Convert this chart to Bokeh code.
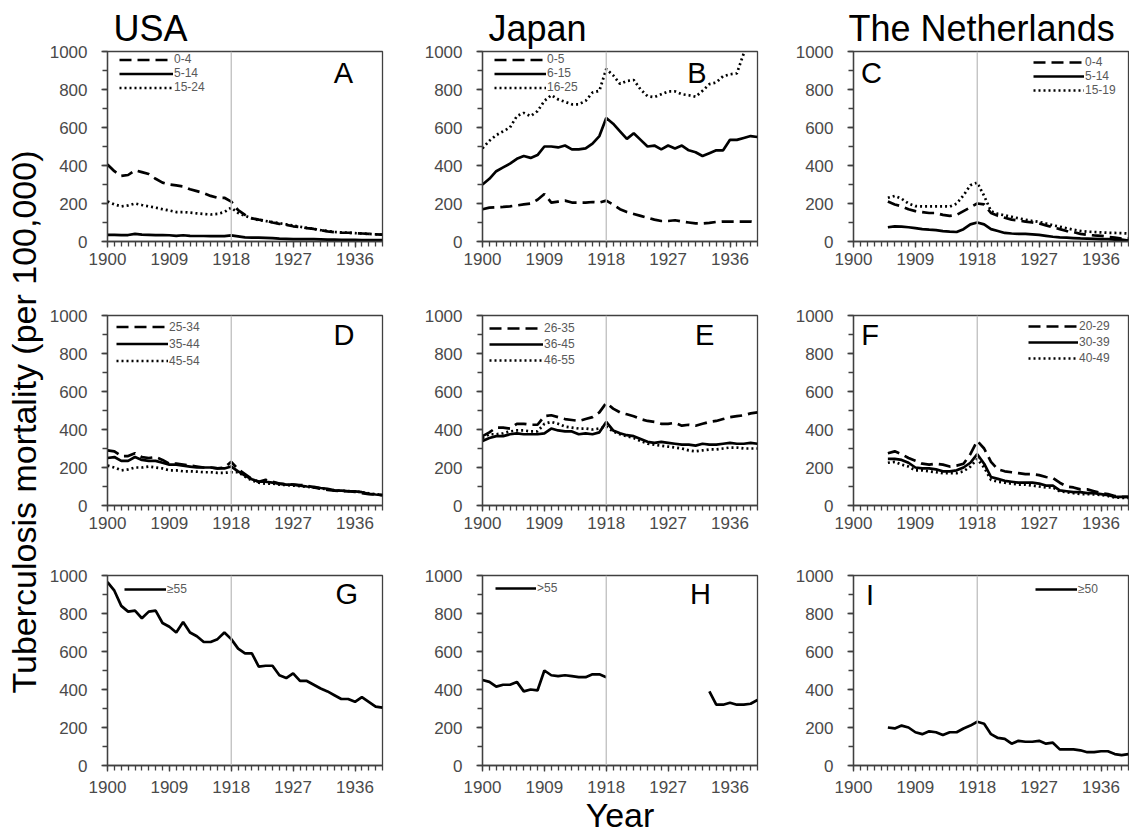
import math
from bokeh.plotting import figure
from bokeh.models import Range1d, FixedTicker, Span, Label, Title
from bokeh.layouts import row, column
from bokeh.embed import file_html
from bokeh.resources import INLINE

NaN = float("nan")
FONT = "Liberation Sans"

# ---------------- data ----------------
years = list(range(1900, 1941))
years_nl = list(range(1905, 1941))
x_ticks = [1900, 1909, 1918, 1927, 1936]
y_ticks = [0, 200, 400, 600, 800, 1000]
countries = ["USA", "Japan", "The Netherlands"]

# USA
usa_0_4 = [405, 370, 345, 350, 375, 365, 355, 330, 310, 300,
           295, 290, 275, 265, 255, 240, 230, 230, 210, 165,
           140, 122, 115, 110, 100, 93, 88, 80, 76, 70,
           66, 60, 53, 49, 47, 46, 44, 42, 40, 38, 36]
usa_5_14 = [35, 35, 34, 34, 40, 36, 35, 34, 34, 33,
            30, 33, 30, 29, 29, 28, 28, 28, 32, 27,
            22, 20, 20, 19, 18, 15, 14, 13, 13, 12,
            12, 11, 10, 10, 9, 9, 9, 8, 8, 8, 7]
usa_15_24 = [210, 195, 185, 190, 200, 192, 185, 178, 170, 163,
             155, 155, 152, 148, 145, 142, 145, 155, 178, 150,
             135, 122, 112, 108, 102, 96, 90, 84, 78, 72,
             66, 60, 55, 50, 48, 46, 44, 42, 40, 38, 36]
usa_25_34 = [290, 285, 260, 260, 275, 255, 250, 255, 240, 220,
             220, 215, 210, 205, 200, 200, 195, 200, 230, 190,
             165, 140, 125, 135, 125, 115, 112, 110, 108, 105,
             95, 88, 82, 78, 76, 75, 72, 65, 60, 58, 55]
usa_35_44 = [250, 255, 235, 235, 255, 240, 235, 235, 225, 215,
             215, 210, 205, 200, 200, 200, 195, 195, 205, 180,
             158, 138, 125, 125, 120, 115, 110, 110, 105, 100,
             98, 92, 88, 80, 78, 75, 74, 70, 62, 58, 55]
usa_45_54 = [210, 200, 185, 190, 200, 200, 205, 200, 195, 185,
             185, 180, 180, 178, 175, 175, 172, 172, 175, 175,
             152, 132, 120, 115, 115, 110, 108, 105, 102, 98,
             95, 90, 85, 80, 78, 76, 74, 70, 64, 60, 56]
usa_55 = [965, 920, 840, 810, 815, 775, 810, 815, 750, 730,
          700, 755, 700, 680, 650, 650, 665, 700, 665, 615,
          590, 590, 520, 525, 525, 475, 460, 485, 445, 445,
          425, 405, 390, 370, 350, 350, 335, 360, 335, 310, 305]

# Japan
jp_0_5 = [170, 178, 180, 182, 185, 190, 195, 200, 220, 250,
          205, 210, 215, 205, 205, 205, 208, 205, 215, 195,
          170, 155, 145, 135, 125, 115, 108, 108, 112, 105,
          100, 95, 95, 98, 103, 105, 105, 105, 105, 105, 100]
jp_6_15 = [300, 330, 370, 390, 410, 435, 450, 440, 455, 500,
           500, 495, 505, 485, 485, 490, 515, 555, 650, 620,
           580, 540, 570, 535, 500, 505, 485, 505, 490, 505,
           480, 470, 450, 465, 480, 480, 535, 535, 545, 555, 550]
jp_16_25 = [490, 530, 560, 580, 600, 660, 677, 660, 686, 740,
            770, 748, 735, 722, 722, 740, 784, 793, 908, 875,
            830, 845, 850, 800, 765, 760, 775, 790, 790, 775,
            770, 762, 793, 828, 837, 870, 880, 885, 990, 1100, 1200]
jp_26_35 = [365, 385, 410, 410, 405, 430, 430, 425, 425, 470,
            475, 465, 455, 450, 445, 455, 465, 490, 540, 510,
            490, 480, 470, 455, 445, 440, 430, 430, 435, 420,
            425, 420, 430, 440, 445, 455, 465, 470, 475, 485, 490]
jp_36_45 = [340, 355, 365, 365, 375, 380, 375, 375, 375, 380,
            405, 395, 390, 390, 375, 380, 375, 385, 440, 395,
            380, 370, 365, 350, 335, 330, 335, 330, 325, 320,
            320, 315, 325, 320, 320, 325, 330, 325, 325, 330, 325]
jp_46_55 = [355, 375, 375, 380, 390, 395, 395, 390, 390, 430,
            440, 430, 415, 410, 405, 405, 400, 405, 415, 390,
            375, 365, 355, 340, 325, 320, 315, 310, 305, 300,
            290, 285, 290, 295, 295, 300, 305, 305, 300, 300, 300]
jp_55 = [450, 440, 415, 425, 425, 440, 390, 400, 395, 500,
         475, 470, 475, 470, 465, 465, 480, 480, 465, NaN,
         NaN, NaN, NaN, NaN, NaN, NaN, NaN, NaN, NaN, NaN,
         NaN, NaN, NaN, 390, 320, 320, 330, 320, 320, 325, 345]

# The Netherlands (1905-1940)
nl_0_4 = [210, 195, 185, 170, 160, 155, 150, 150, 140, 135,
          140, 160, 180, 200, 195, 150, 135, 125, 115, 110,
          105, 100, 95, 85, 75, 65, 55, 50, 40, 35,
          32, 30, 25, 20, 15, 15]
nl_5_14 = [75, 80, 78, 75, 70, 65, 62, 60, 55, 52,
           50, 65, 90, 100, 90, 65, 55, 45, 42, 40,
           40, 38, 35, 30, 25, 22, 20, 18, 16, 15,
           14, 12, 12, 10, 10, 5]
nl_15_19 = [230, 240, 225, 200, 186, 185, 185, 185, 185, 184,
            199, 243, 296, 310, 240, 160, 145, 138, 130, 122,
            115, 108, 103, 95, 85, 78, 70, 62, 56, 52,
            50, 48, 46, 45, 44, 42]
nl_20_29 = [275, 285, 270, 250, 235, 220, 215, 220, 215, 205,
            210, 220, 270, 340, 300, 230, 190, 180, 175, 170,
            165, 165, 160, 150, 145, 120, 100, 95, 85, 85,
            75, 65, 60, 50, 45, 45]
nl_30_39 = [245, 245, 240, 225, 200, 195, 195, 190, 180, 180,
            185, 200, 225, 270, 220, 150, 140, 130, 125, 120,
            120, 120, 115, 105, 105, 80, 75, 70, 70, 65,
            65, 60, 55, 45, 45, 45]
nl_40_49 = [225, 230, 215, 205, 185, 185, 180, 175, 170, 170,
            170, 180, 205, 245, 200, 135, 125, 120, 115, 110,
            110, 105, 100, 95, 95, 75, 70, 65, 60, 60,
            58, 55, 50, 42, 40, 40]
nl_50 = [200, 195, 210, 200, 175, 165, 180, 175, 160, 175,
         175, 195, 210, 230, 220, 165, 145, 140, 115, 130,
         125, 125, 130, 115, 120, 85, 85, 85, 80, 70,
         70, 75, 75, 60, 55, 60]

# ---------------- layout constants ----------------
FW, FH = 276, 190
W0 = 46                                   # y-title strip width
COLS = [(60, 39), (60, 35), (60, 1)]      # left/right borders
ROWS = [(51, 40), (34, 40), (30, 74)]     # top/bottom borders
X_STANDOFF = [5, 5, 9]
DASH = {"dash": "12 6", "solid": "solid", "dot": "2 3"}
AXC = "#404040"
TXC = "#4a4a4a"
TOTAL_H = sum(t + FH + b for t, b in ROWS)


def strip(w, h):
    s = figure(width=w, height=h, x_range=Range1d(0, w), y_range=Range1d(0, h),
               x_axis_type=None, y_axis_type=None, output_backend="svg",
               toolbar_location=None, min_border=0)
    s.outline_line_color = None
    s.grid.visible = False
    return s


def panel(ci, ri, series, letter, letter_xy, leg):
    L, R = COLS[ci]
    T, B = ROWS[ri]
    p = figure(width=L + FW + R, height=T + FH + B,
               x_range=Range1d(1900, 1940), y_range=Range1d(0, 1000),
               output_backend="svg", toolbar_location=None,
               min_border_left=L, min_border_right=R,
               min_border_top=T, min_border_bottom=B)
    p.xgrid.visible = False
    p.ygrid.visible = False
    p.outline_line_color = AXC
    p.outline_line_width = 1.3
    p.xaxis.ticker = FixedTicker(ticks=x_ticks, minor_ticks=years)
    p.yaxis.ticker = FixedTicker(ticks=y_ticks, minor_ticks=list(range(0, 1001, 100)))
    for ax in (p.xaxis[0], p.yaxis[0]):
        ax.axis_line_color = AXC
        ax.axis_line_width = 1.3
        ax.major_tick_line_color = AXC
        ax.minor_tick_line_color = AXC
        ax.major_tick_line_width = 1.3
        ax.minor_tick_line_width = 1.3
        ax.major_tick_in = 0
        ax.minor_tick_in = 0
        ax.major_tick_out = 6
        ax.minor_tick_out = 5
        ax.major_label_text_font = FONT
        ax.major_label_text_font_size = "17px"
        ax.major_label_text_color = TXC
    p.yaxis.major_label_standoff = 14
    p.xaxis.major_label_standoff = X_STANDOFF[ri]

    p.add_layout(Span(location=1918, dimension="height",
                      line_color="#bfbfbf", line_width=1.3))

    for xs, ys, style, name in series:
        p.line(xs, ys, line_color="black", line_width=2.7,
               line_dash=DASH[style], legend_label=name)

    gx, gw, first_c, rowh = leg
    n = len(series)
    lg = p.legend[0]
    lg.location = (gx, int(FH - (first_c - rowh / 2) - n * rowh))
    lg.margin = 0
    lg.padding = 0
    lg.spacing = 0
    lg.glyph_width = gw
    lg.glyph_height = rowh
    lg.label_height = rowh
    lg.label_standoff = 1
    lg.label_text_font = FONT
    lg.label_text_font_size = "12px"
    lg.label_text_color = "#595959"
    lg.border_line_color = None
    lg.background_fill_alpha = 0

    p.add_layout(Label(x=letter_xy[0], y=letter_xy[1], text=letter,
                       text_font=FONT, text_font_size="29px",
                       text_align="center", text_baseline="middle",
                       text_color="black"))
    return p


pA = panel(0, 0, [(years, usa_0_4, "dash", "0-4"), (years, usa_5_14, "solid", "5-14"),
                  (years, usa_15_24, "dot", "15-24")], "A", (1934.3, 885), (12, 54, 10, 13))
pB = panel(1, 0, [(years, jp_0_5, "dash", "0-5"), (years, jp_6_15, "solid", "6-15"),
                  (years, jp_16_25, "dot", "16-25")], "B", (1931.2, 885), (12, 52, 10, 13))
pC = panel(2, 0, [(years_nl, nl_0_4, "dash", "0-4"), (years_nl, nl_5_14, "solid", "5-14"),
                  (years_nl, nl_15_19, "dot", "15-19")], "C", (1902.6, 885), (180, 51, 11, 14))
pD = panel(0, 1, [(years, usa_25_34, "dash", "25-34"), (years, usa_35_44, "solid", "35-44"),
                  (years, usa_45_54, "dot", "45-54")], "D", (1934.4, 900), (9, 52, 11, 17))
pE = panel(1, 1, [(years, jp_26_35, "dash", "26-35"), (years, jp_36_45, "solid", "36-45"),
                  (years, jp_46_55, "dot", "46-55")], "E", (1932.3, 900), (7, 54, 13, 16))
pF = panel(2, 1, [(years_nl, nl_20_29, "dash", "20-29"), (years_nl, nl_30_39, "solid", "30-39"),
                  (years_nl, nl_40_49, "dot", "40-49")], "F", (1902.4, 895), (175, 50, 11, 16))
pG = panel(0, 2, [(years, usa_55, "solid", "\u226555")], "G", (1934.8, 903), (17, 42, 14, 14))
pH = panel(1, 2, [(years, jp_55, "solid", ">55")], "H", (1931.7, 903), (13, 41, 13, 14))
pI = panel(2, 2, [(years_nl, nl_50, "solid", "\u226550")], "I", (1902.4, 900), (182, 42, 14, 14))

# column titles (figure titles of the top row)
for p, name, off in ((pA, countries[0], 6), (pB, countries[1], 6), (pC, countries[2], -5)):
    p.add_layout(Title(text=name, align="left", offset=off, standoff=6,
                       vertical_align="bottom", text_font=FONT, text_font_size="36px",
                       text_font_style="normal", text_color="black"), "above")

# x-axis title on the bottom-centre panel
pH.xaxis.axis_label = "Year"
pH.xaxis.axis_label_standoff = 0
pH.xaxis.axis_label_text_font = FONT
pH.xaxis.axis_label_text_font_size = "34px"
pH.xaxis.axis_label_text_font_style = "normal"
pH.xaxis.axis_label_text_color = "black"

# y-title strip
ylab = strip(W0, TOTAL_H)
ylab.add_layout(Label(x=23, y=TOTAL_H - 421.5, text="Tuberculosis mortality (per 100,000)",
                      angle=math.pi / 2, text_font=FONT, text_font_size="34px",
                      text_align="center", text_baseline="middle", text_color="black"))

grid = column(row(pA, pB, pC), row(pD, pE, pF), row(pG, pH, pI))
layout = row(ylab, grid)

open("out.html", "w").write(file_html(layout, INLINE))
